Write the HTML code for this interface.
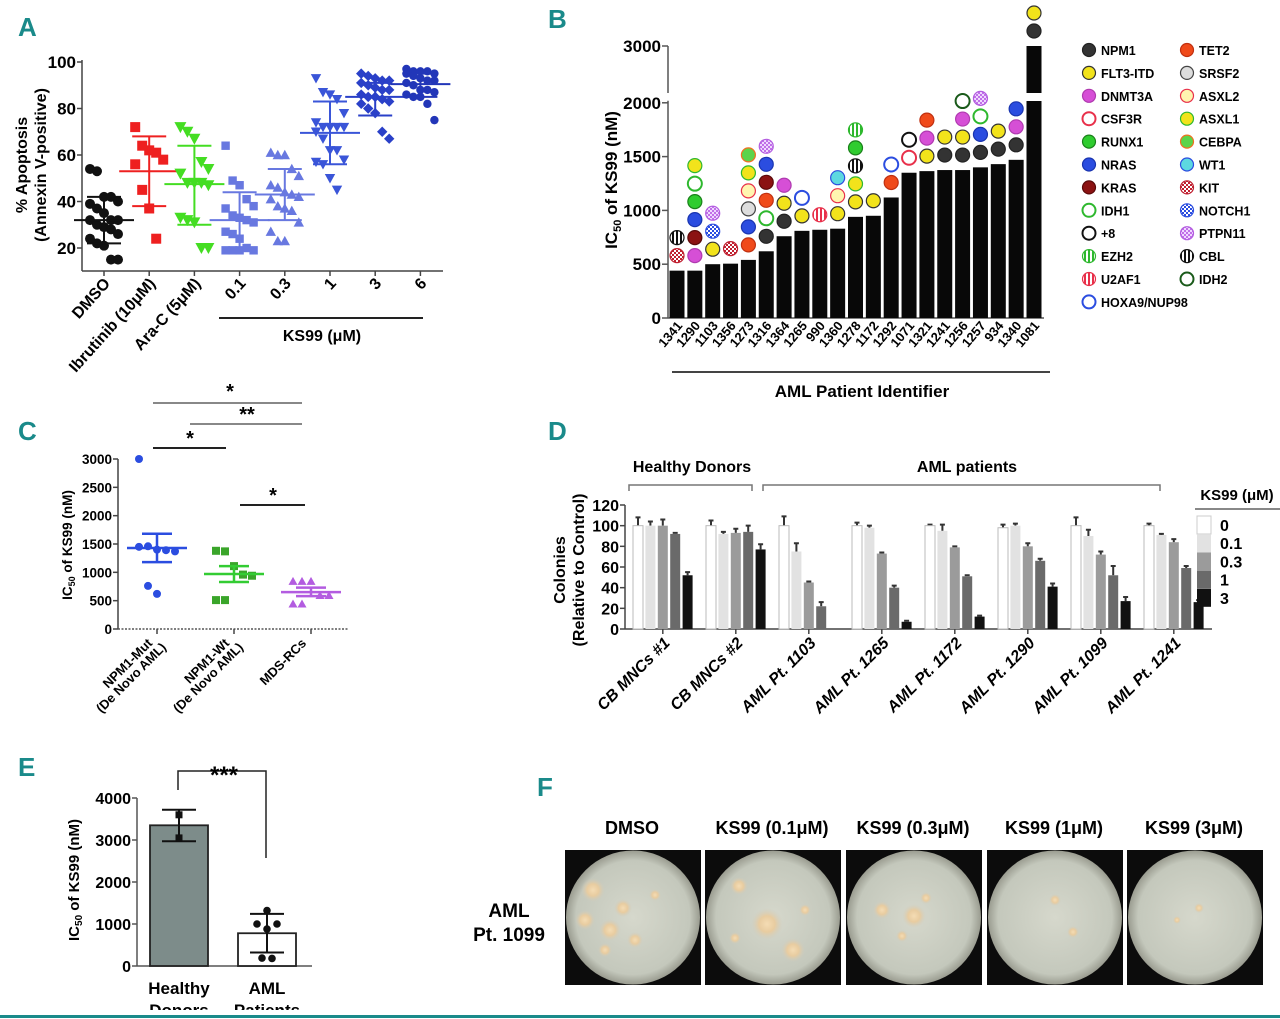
<!DOCTYPE html>
<html><head><meta charset="utf-8"><style>
html,body{margin:0;padding:0;background:#fff;}
svg{display:block;font-family:"Liberation Sans",Arial,sans-serif;font-weight:bold;}
.let{fill:#1a8a8a;font-size:26px;font-family:"Liberation Sans Narrow","Liberation Sans",sans-serif;}
</style></head><body>
<svg id="fig" width="1280" height="1019" viewBox="0 0 1280 1019" xmlns="http://www.w3.org/2000/svg">
<defs>
<pattern id="stK" width="4" height="4" patternUnits="userSpaceOnUse"><rect width="4" height="4" fill="#fff"/><rect width="2" height="4" fill="#111"/></pattern>
<pattern id="stG" width="4" height="4" patternUnits="userSpaceOnUse"><rect width="4" height="4" fill="#fff"/><rect width="2" height="4" fill="#2eb82e"/></pattern>
<pattern id="stR" width="4" height="4" patternUnits="userSpaceOnUse"><rect width="4" height="4" fill="#fff"/><rect width="2" height="4" fill="#e8304a"/></pattern>
<pattern id="ckR" width="4" height="4" patternUnits="userSpaceOnUse"><rect width="4" height="4" fill="#c02030"/><rect width="2" height="2" fill="#fff"/><rect x="2" y="2" width="2" height="2" fill="#fff"/></pattern>
<pattern id="ckB" width="4" height="4" patternUnits="userSpaceOnUse"><rect width="4" height="4" fill="#2b4de0"/><rect width="2" height="2" fill="#fff"/><rect x="2" y="2" width="2" height="2" fill="#fff"/></pattern>
<pattern id="ckP" width="4" height="4" patternUnits="userSpaceOnUse"><rect width="4" height="4" fill="#c070e8"/><rect width="2" height="2" fill="#f0d8ff"/><rect x="2" y="2" width="2" height="2" fill="#f0d8ff"/></pattern>
<radialGradient id="dish" cx="0.5" cy="0.5" r="0.5"><stop offset="0" stop-color="#d6d8cc"/><stop offset="0.85" stop-color="#c4c8bc"/><stop offset="1" stop-color="#9a9c90"/></radialGradient>
<radialGradient id="col" cx="0.5" cy="0.5" r="0.5"><stop offset="0" stop-color="#f4dcb4"/><stop offset="0.5" stop-color="#e8cca0"/><stop offset="1" stop-color="#d0ccbc" stop-opacity="0"/></radialGradient>
</defs>
<text class="let" x="18" y="36">A</text>
<text class="let" x="548" y="28">B</text>
<text class="let" x="18" y="440">C</text>
<text class="let" x="548" y="440">D</text>
<text class="let" x="18" y="776">E</text>
<text class="let" x="537" y="796">F</text>
<g id="gA"></g>
<g id="gB"></g>
<g id="gC"></g>
<g id="gD"></g>
<g id="gE"></g>
<g id="gF"></g>
<line x1="0" y1="1016.5" x2="1280" y2="1016.5" stroke="#1a8a8a" stroke-width="3"/>
</svg>
<script>
// ---------- Panel A data ----------
const aCategories = ['DMSO','Ibrutinib (10\u03bcM)','Ara-C (5\u03bcM)','0.1','0.3','1','3','6'];
const aDMSO = [54,53,42,42,40,39,37,35,32,32,32,30,29,28,26,24,22,21,15,15];
const aIbru = [72,64,62,61,58,56,45,37,24];
const aAraC = [72,70,67,57,54,52,48,48,48,47,33,32,31,20,20];
const aK01 = [64,49,47,41,38,37,34,33,32,31,27,26,24,20,19,19,19,19];
const aK03 = [61,60,60,54,51,47,46,44,43,42,41,38,37,36,31,27,23,23];
const aK1 = [93,87,86,84,78,74,72,72,72,72,70,67,62,62,58,57,56,50,45];
const aK3 = [95,94,93,92,92,91,90,89,88,88,86,85,85,84,83,82,80,78,70,67];
const aK6 = [97,96,96,96,95,95,94,93,92,92,91,90,88,88,87,86,85,85,82,75];
const aMeans = [32,53,47.5,32,43,69.5,85,90.5];
const aLow = [22,38,30,20,32,56,77,85];
const aHigh = [42,68,64,44,54,83,91,95];
const aTicks = [20,40,60,80,100];
// ---------- Panel B data ----------
const bPatients = ['1341','1290','1103','1356','1273','1316','1364','1265','990','1360','1278','1172','1292','1071','1321','1241','1256','1257','934','1340','1081'];
const bIC50 = [440,440,500,505,540,620,760,810,820,830,940,950,1120,1350,1365,1375,1375,1400,1430,1470,3000];
const bMutations = [['KIT','CBL'],['DNMT3A','KRAS','NRAS','RUNX1','IDH1','ASXL1'],['FLT3-ITD','NOTCH1','PTPN11'],['KIT'],['TET2','NRAS','SRSF2','ASXL2','ASXL1','CEBPA'],['NPM1','IDH1','TET2','KRAS','NRAS','PTPN11'],['NPM1','FLT3-ITD','DNMT3A'],['FLT3-ITD','HOXA9/NUP98'],['U2AF1'],['FLT3-ITD','ASXL2','WT1'],['FLT3-ITD','ASXL1','CBL','RUNX1','EZH2'],['FLT3-ITD'],['TET2','HOXA9/NUP98'],['CSF3R','+8'],['FLT3-ITD','DNMT3A','TET2'],['NPM1','FLT3-ITD'],['NPM1','FLT3-ITD','DNMT3A','IDH2'],['NPM1','NRAS','IDH1','PTPN11'],['NPM1','FLT3-ITD'],['NPM1','DNMT3A','NRAS'],['NPM1','FLT3-ITD']];
const bLegendLeft = ['NPM1','FLT3-ITD','DNMT3A','CSF3R','RUNX1','NRAS','KRAS','IDH1','+8','EZH2','U2AF1','HOXA9/NUP98'];
const bLegendRight = ['TET2','SRSF2','ASXL2','ASXL1','CEBPA','WT1','KIT','NOTCH1','PTPN11','CBL','IDH2'];
const bTicks = [0,500,1000,1500,2000,3000];
// ---------- Panel C data ----------
const cCategories = [['NPM1-Mut','(De Novo AML)'],['NPM1-Wt','(De Novo AML)'],['MDS-RCs','']];
const cMut = [3000,1460,1400,1390,1370,1450,760,620];
const cWt = [1380,1370,1110,960,940,510,510];
const cMDS = [850,850,850,600,600,450,450];
const cMeans = [1430,970,650];
const cLow = [1180,830,580];
const cHigh = [1680,1110,730];
const cTicks = [0,500,1000,1500,2000,2500,3000];
// ---------- Panel D data ----------
const dGroups = ['CB MNCs #1','CB MNCs #2','AML Pt. 1103','AML Pt. 1265','AML Pt. 1172','AML Pt. 1290','AML Pt. 1099','AML Pt. 1241'];
const dDoses = ['0','0.1','0.3','1','3'];
const dValues = [[100,100,100,92,52],[100,92,93,94,77],[100,75,45,22,0],[100,98,73,40,7],[100,95,79,51,12],[98,100,80,66,41],[100,90,72,52,27],[100,91,84,59,26]];
const dErrors = [[8,4,6,1,3],[5,2,4,6,5],[9,8,1,4,0],[3,2,1,2,1],[1,6,1,1,1],[3,2,3,2,3],[8,6,3,9,4],[2,1,3,2,2]];
const dTicks = [0,20,40,60,80,100,120];
// ---------- Panel E data ----------
const eCategories = [['Healthy','Donors'],['AML','Patients']];
const eMeans = [3350,780];
const eLow = [2970,320];
const eHigh = [3720,1240];
const eHealthyPts = [3600,3050];
const eAMLPts = [1320,1000,1000,880,190,180];
const eTicks = [0,1000,2000,3000,4000];
// ---------- Panel F ----------
const fTitles = ['DMSO','KS99 (0.1\u03bcM)','KS99 (0.3\u03bcM)','KS99 (1\u03bcM)','KS99 (3\u03bcM)'];

const NS='http://www.w3.org/2000/svg';
function mk(tag, attrs, parent, txt){const e=document.createElementNS(NS,tag);for(const k in attrs)e.setAttribute(k,attrs[k]);if(txt!==undefined)e.textContent=txt;parent.appendChild(e);return e;}

// ================= PANEL A =================
(function(){
const g=document.getElementById('gA');
const yA=v=>248-(v-20)*2.325;
const xA=i=>104+i*45.2;
let e;
e=mk('line',{x1:82,y1:yA(100)-2,x2:82,y2:271,stroke:'#444','stroke-width':1.5},g);


e=mk('line',{x1:82,y1:271,x2:443,y2:271,stroke:'#444','stroke-width':1.5},g);


aTicks.forEach(t=>{
 mk('line',{x1:77,y1:yA(t),x2:82,y2:yA(t),stroke:'#444','stroke-width':1.5},g);
 e=mk('text',{x:76,y:yA(t)+6,'text-anchor':'end','font-size':17},g,String(t));
 
 
});
e=mk('text',{transform:'translate(27,165) rotate(-90)','text-anchor':'middle','font-size':16},g,'% Apoptosis');


e=mk('text',{transform:'translate(46,165) rotate(-90)','text-anchor':'middle','font-size':16},g,'(Annexin V-positive)');


aCategories.forEach((c,i)=>{
 mk('line',{x1:xA(i),y1:271,x2:xA(i),y2:276,stroke:'#444','stroke-width':1.5},g);
 e=mk('text',{transform:`translate(${xA(i)+7},284) rotate(-48)`,'text-anchor':'end','font-size':16},g,c);
 
 
});
e=mk('line',{x1:219,y1:318,x2:423,y2:318,stroke:'#222','stroke-width':2},g);


e=mk('text',{x:322,y:341,'text-anchor':'middle','font-size':16},g,'KS99 (\u03bcM)');


const series=[aDMSO,aIbru,aAraC,aK01,aK03,aK1,aK3,aK6];
const cols=['#111','#ee2020','#44dd22','#6878e0','#6878e0','#3a55d8','#2a40c8','#2236b8'];
const shapes=['c','s','v','s','^','v','d','c'];
series.forEach((arr,i)=>{
 const col=cols[i];
 arr.forEach((v,j)=>{
  const off=((j%5)-2)*7;
  const x=xA(i)+off, y=yA(v);
  let m; const s=shapes[i]; const r=i<3?5:4.2;
  if(s==='c') m=mk('circle',{cx:x,cy:y,r:r,fill:col},g);
  else if(s==='s') m=mk('rect',{x:x-r,y:y-r,width:2*r,height:2*r,fill:col},g);
  else if(s==='v') m=mk('polygon',{points:`${x-r-1},${y-r} ${x+r+1},${y-r} ${x},${y+r+1}`,fill:col},g);
  else if(s==='^') m=mk('polygon',{points:`${x-r-1},${y+r} ${x+r+1},${y+r} ${x},${y-r-1}`,fill:col},g);
  else m=mk('polygon',{points:`${x},${y-r-1} ${x+r+1},${y} ${x},${y+r+1} ${x-r-1},${y}`,fill:col},g);
  
  
 });
 e=mk('line',{x1:xA(i)-30,y1:yA(aMeans[i]),x2:xA(i)+30,y2:yA(aMeans[i]),stroke:col,'stroke-width':2},g);
 
 
 e=mk('path',{d:`M${xA(i)},${yA(aLow[i])}V${yA(aHigh[i])}M${xA(i)-17},${yA(aLow[i])}h34M${xA(i)-17},${yA(aHigh[i])}h34`,stroke:col,'stroke-width':2,fill:'none'},g);
 
 
});
})();

// ================= PANEL B =================
const mutStyle={NPM1:['#333','#222'],'FLT3-ITD':['#f2e31b','#333'],DNMT3A:['#d64fd6','#b03ab0'],CSF3R:['#fff','#e8304a'],RUNX1:['#2fcc2f','#1a801a'],NRAS:['#2b4de0','#1a35b0'],KRAS:['#8b1212','#5a0a0a'],IDH1:['#fff','#2eb82e'],'+8':['#fff','#111'],EZH2:['url(#stG)','#2eb82e'],U2AF1:['url(#stR)','#e8304a'],'HOXA9/NUP98':['#fff','#2b4de0'],TET2:['#f04a1a','#c03010'],SRSF2:['#ddd','#444'],ASXL2:['#fff5b0','#e8304a'],ASXL1:['#f2e31b','#2eb82e'],CEBPA:['#5bd44a','#f07020'],WT1:['#5dd8e0','#2b4de0'],KIT:['url(#ckR)','#c02030'],NOTCH1:['url(#ckB)','#2b4de0'],PTPN11:['url(#ckP)','#b35ce0'],CBL:['url(#stK)','#111'],IDH2:['#fff','#1a5a1a']};
(function(){
const g=document.getElementById('gB');
const yB=v=>v<=2000?318-v*0.1076:97-(v-2000)*0.051;
const xB=i=>677+i*17.85;
let e;
e=mk('path',{d:`M668,318V${yB(2000)-2}M668,93V${yB(3000)}`,stroke:'#555','stroke-width':1.5,fill:'none'},g);


e=mk('line',{x1:668,y1:318,x2:1044,y2:318,stroke:'#555','stroke-width':1.5},g);


bTicks.forEach(t=>{
 mk('line',{x1:662,y1:yB(t),x2:668,y2:yB(t),stroke:'#555','stroke-width':1.5},g);
 e=mk('text',{x:661,y:yB(t)+6,'text-anchor':'end','font-size':17},g,String(t));
 
 
});
e=mk('text',{transform:'translate(617,180) rotate(-90)','text-anchor':'middle','font-size':17},g);


mk('tspan',{},e,'IC');mk('tspan',{'font-size':11,dy:4},e,'50');mk('tspan',{dy:-4},e,' of KS99 (nM)');
bIC50.forEach((v,i)=>{
 e=mk('rect',{x:xB(i)-7.5,y:yB(v),width:15,height:318-yB(v),fill:'#080808'},g);
 
 
 if(v>2000){mk('rect',{x:xB(i)-9,y:93,width:18,height:8,fill:'#fff'},g);}
 bMutations[i].forEach((m,k)=>{
  const st=mutStyle[m]; const open=st[0]==='#fff';
  const c=mk('circle',{cx:xB(i),cy:yB(v)-15-k*18,r:7,fill:st[0],stroke:st[1],'stroke-width':open?2:1.2},g);
  
  
 });
 e=mk('text',{transform:`translate(${xB(i)+6},326) rotate(-50)`,'text-anchor':'end','font-size':13},g,bPatients[i]);
 
 
});
e=mk('line',{x1:672,y1:372,x2:1050,y2:372,stroke:'#444','stroke-width':2},g);


e=mk('text',{x:862,y:397,'text-anchor':'middle','font-size':17},g,'AML Patient Identifier');


const drawLeg=(list,cx)=>list.forEach((m,k)=>{
 const st=mutStyle[m]; const open=st[0]==='#fff'; const y=50+k*22.9;
 const c=mk('circle',{cx:cx,cy:y,r:6.5,fill:st[0],stroke:st[1],'stroke-width':open?2:1.2},g);
 
 
 const t=mk('text',{x:cx+12,y:y+5,'font-size':12.5},g,m);
 
 
});
drawLeg(bLegendLeft,1089);drawLeg(bLegendRight,1187);
})();

// ================= PANEL C =================
(function(){
const g=document.getElementById('gC');
const yC=v=>629-v*170/3000;
const xC=i=>157+i*77;
let e;
e=mk('line',{x1:118,y1:yC(3000),x2:118,y2:629,stroke:'#444','stroke-width':1.5},g);


e=mk('line',{x1:118,y1:629,x2:348,y2:629,stroke:'#555','stroke-width':1.5,'stroke-dasharray':'2,1.5'},g);


cTicks.forEach(t=>{
 mk('line',{x1:113,y1:yC(t),x2:118,y2:yC(t),stroke:'#444','stroke-width':1.5},g);
 e=mk('text',{x:112,y:yC(t)+5,'text-anchor':'end','font-size':13.5},g,String(t));
 
 
});
e=mk('text',{transform:'translate(72,545) rotate(-90)','text-anchor':'middle','font-size':13.5},g);


mk('tspan',{},e,'IC');mk('tspan',{'font-size':9,dy:3},e,'50');mk('tspan',{dy:-3},e,' of KS99 (nM)');
const series=[cMut,cWt,cMDS], cols=['#2b4de0','#3aa52a','#b35ce0'], lc=['#2b4de0','#33cc33','#b35ce0'];
series.forEach((arr,i)=>{
 mk('line',{x1:xC(i),y1:629,x2:xC(i),y2:634,stroke:'#444','stroke-width':1.5},g);
 arr.forEach((v,j)=>{
  const x=xC(i)+(((j%5)-2)*9), y=yC(v); let m;
  if(i===0) m=mk('circle',{cx:x,cy:y,r:4,fill:cols[i]},g);
  else if(i===1) m=mk('rect',{x:x-4,y:y-4,width:8,height:8,fill:cols[i]},g);
  else m=mk('polygon',{points:`${x-4.5},${y+4} ${x+4.5},${y+4} ${x},${y-4}`,fill:cols[i]},g);
  
  
 });
 e=mk('line',{x1:xC(i)-30,y1:yC(cMeans[i]),x2:xC(i)+30,y2:yC(cMeans[i]),stroke:lc[i],'stroke-width':2.5},g);
 
 
 e=mk('path',{d:`M${xC(i)},${yC(cLow[i])}V${yC(cHigh[i])}M${xC(i)-15},${yC(cLow[i])}h30M${xC(i)-15},${yC(cHigh[i])}h30`,stroke:lc[i],'stroke-width':2.5,fill:'none'},g);
 
 
 e=mk('text',{transform:`translate(${xC(i)-4},644) rotate(-45)`,'text-anchor':'end','font-size':13},g,cCategories[i][0]);
 
 
 if(cCategories[i][1]){e=mk('text',{transform:`translate(${xC(i)+10},648) rotate(-45)`,'text-anchor':'end','font-size':13},g,cCategories[i][1]);
 
 }
});
[[153,302,403,'#888','*',230,398],[190,302,424,'#888','**',247,421],[153,226,448,'#222','*',190,445],[240,305,505,'#222','*',273,502]].forEach(s=>{
 e=mk('line',{x1:s[0],y1:s[2],x2:s[1],y2:s[2],stroke:s[3],'stroke-width':2},g);
 
 
 e=mk('text',{x:s[5],y:s[6],'text-anchor':'middle','font-size':20},g,s[4]);
 
 
});
})();

// ================= PANEL D =================
(function(){
const g=document.getElementById('gD');
const yD=v=>629-v*124/120;
const xD=(gi,k)=>633+gi*73+k*12.4;
const fills=['#ffffff','#e2e2e2','#9b9b9b','#6a6a6a','#111'];
let e;
e=mk('line',{x1:625,y1:yD(120),x2:625,y2:629,stroke:'#444','stroke-width':1.5},g);


e=mk('line',{x1:625,y1:629,x2:1212,y2:629,stroke:'#444','stroke-width':1.5},g);


dTicks.forEach(t=>{
 mk('line',{x1:620,y1:yD(t),x2:625,y2:yD(t),stroke:'#444','stroke-width':1.5},g);
 e=mk('text',{x:619,y:yD(t)+6,'text-anchor':'end','font-size':16},g,String(t));
 
 
});
e=mk('text',{transform:'translate(565,570) rotate(-90)','text-anchor':'middle','font-size':16},g,'Colonies');


e=mk('text',{transform:'translate(584,570) rotate(-90)','text-anchor':'middle','font-size':16},g,'(Relative to Control)');


dValues.forEach((vals,gi)=>{
 vals.forEach((v,k)=>{
  const x=xD(gi,k);
  if(dErrors[gi][k]>0){
   e=mk('path',{d:`M${x+5},${yD(v)}V${yD(v+dErrors[gi][k])}M${x+2.5},${yD(v+dErrors[gi][k])}h5`,stroke:'#333','stroke-width':2,fill:'none'},g);
   
   
  }
  e=mk('rect',{x:x,y:yD(v),width:10,height:629-yD(v),fill:fills[k],stroke:k===0?'#bbb':'none','stroke-width':1},g);
  
  
 });
 const c=xD(gi,2)+5;
 mk('line',{x1:c,y1:629,x2:c,y2:634,stroke:'#444','stroke-width':1.5},g);
 e=mk('text',{transform:`translate(${c+8},644) rotate(-45)`,'text-anchor':'end','font-size':16,'font-style':'italic'},g,dGroups[gi]);
 
 
});
e=mk('path',{d:'M629,491V485H752V491',stroke:'#777','stroke-width':1.5,fill:'none'},g);


e=mk('path',{d:'M763,491V485H1160V491',stroke:'#777','stroke-width':1.5,fill:'none'},g);


e=mk('text',{x:692,y:472,'text-anchor':'middle','font-size':16},g,'Healthy Donors');


e=mk('text',{x:967,y:472,'text-anchor':'middle','font-size':16},g,'AML patients');


e=mk('text',{x:1237,y:500,'text-anchor':'middle','font-size':15},g,'KS99 (\u03bcM)');


mk('line',{x1:1195,y1:509,x2:1280,y2:509,stroke:'#888','stroke-width':2},g);
dDoses.forEach((d,k)=>{
 const y=516+k*18.2;
 e=mk('rect',{x:1197,y:y,width:14,height:18,fill:fills[k],stroke:k===0?'#ccc':'none'},g);
 
 
 e=mk('text',{x:1220,y:y+15,'font-size':16},g,d);
 
 
});
})();

// ================= PANEL E =================
(function(){
const g=document.getElementById('gE');
const yE=v=>966-v*0.042;
const xE=i=>179+i*88;
let e;
e=mk('line',{x1:137,y1:yE(4000),x2:137,y2:966,stroke:'#555','stroke-width':1.5},g);


e=mk('line',{x1:137,y1:966,x2:312,y2:966,stroke:'#555','stroke-width':1.5},g);


eTicks.forEach(t=>{
 mk('line',{x1:132,y1:yE(t),x2:137,y2:yE(t),stroke:'#555','stroke-width':1.5},g);
 e=mk('text',{x:131,y:yE(t)+6,'text-anchor':'end','font-size':16},g,String(t));
 
 
});
e=mk('text',{transform:'translate(79,880) rotate(-90)','text-anchor':'middle','font-size':15},g);


mk('tspan',{},e,'IC');mk('tspan',{'font-size':10,dy:3},e,'50');mk('tspan',{dy:-3},e,' of KS99 (nM)');
const fills=['#7d8c8a','#fff'];
[eHealthyPts,eAMLPts].forEach((pts,i)=>{
 e=mk('rect',{x:xE(i)-29,y:yE(eMeans[i]),width:58,height:966-yE(eMeans[i]),fill:fills[i],stroke:'#222','stroke-width':1.8},g);
 
 
 e=mk('path',{d:`M${xE(i)},${yE(eLow[i])}V${yE(eHigh[i])}M${xE(i)-17},${yE(eLow[i])}h34M${xE(i)-17},${yE(eHigh[i])}h34`,stroke:'#111','stroke-width':2,fill:'none'},g);
 
 
 pts.forEach((v,j)=>{
  const off=i===0?0:[0,-10,10,0,-5,5][j%6];
  const m=i===0?mk('rect',{x:xE(i)+off-3.5,y:yE(v)-3.5,width:7,height:7,fill:'#111'},g):mk('circle',{cx:xE(i)+off,cy:yE(v),r:3.8,fill:'#111'},g);
  
  
 });
 e=mk('text',{x:xE(i),y:994,'text-anchor':'middle','font-size':17},g,eCategories[i][0]);
 
 
 e=mk('text',{x:xE(i),y:1016,'text-anchor':'middle','font-size':17},g,eCategories[i][1]);
 
 
});
e=mk('path',{d:'M178,790V771H266V858',stroke:'#222','stroke-width':1.5,fill:'none'},g);


e=mk('text',{x:224,y:783,'text-anchor':'middle','font-size':24},g,'***');


mk('rect',{x:0,y:1010,width:1280,height:9,fill:'#fff'},g);
})();

// ================= PANEL F =================
(function(){
const g=document.getElementById('gF');
const xs=[565,705,846,987,1127];
const colonies=[[[28,40,12],[58,58,9],[20,70,10],[45,80,11],[70,90,8],[40,100,7],[90,45,6]],[[34,36,9],[62,74,16],[88,100,12],[30,88,6],[100,60,6]],[[36,60,9],[68,66,12],[80,48,6],[56,86,6]],[[68,50,6],[86,82,6]],[[72,58,5],[50,70,4]]];
xs.forEach((x,i)=>{
 let e=mk('text',{x:x+67,y:834,'text-anchor':'middle','font-size':18},g,fTitles[i]);
 
 
 e=mk('rect',{x:x,y:850,width:136,height:135,fill:'#0c0c0c'},g);
 
 
 mk('circle',{cx:x+68,cy:917.5,r:67,fill:'url(#dish)'},g);
 colonies[i].forEach(c=>{
  const cc=mk('circle',{cx:x+c[0],cy:850+c[1],r:c[2],fill:'url(#col)'},g);
  
  
 });
});
let e=mk('text',{x:509,y:917,'text-anchor':'middle','font-size':19},g,'AML');


e=mk('text',{x:509,y:941,'text-anchor':'middle','font-size':19},g,'Pt. 1099');


})();
</script>
</body></html>
